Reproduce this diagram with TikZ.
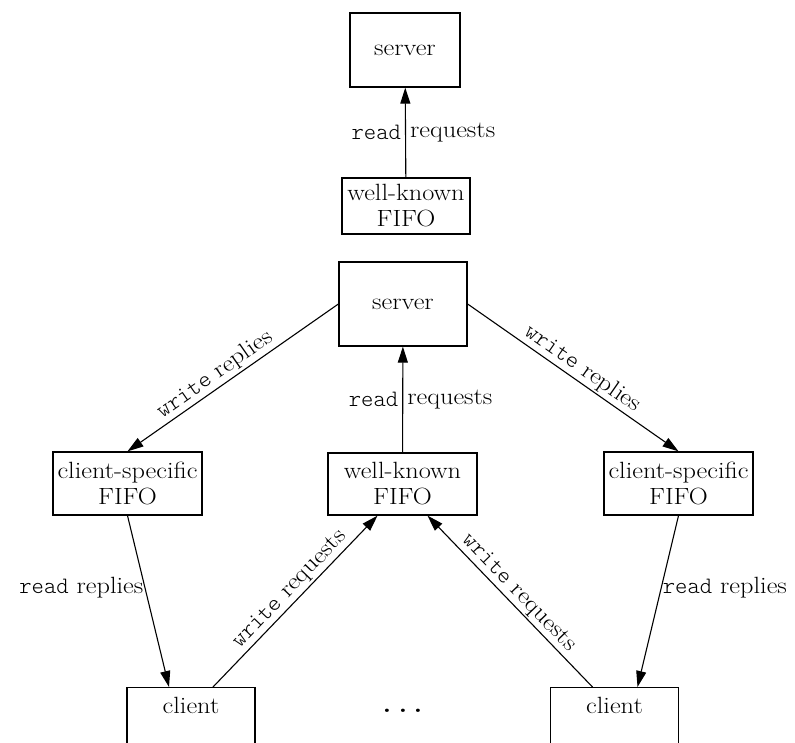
\documentclass[tikz,border=0pt]{standalone}
\usepackage{fontspec}
\setmainfont{Latin Modern Roman}[FakeStretch=1.12]
\setmonofont{Latin Modern Mono Light}
\usetikzlibrary{arrows.meta}

\begin{document}
\begin{tikzpicture}[x=1pt,y=-1pt,
  txt/.style={font=\fontsize{23.5}{26}\selectfont},
  box/.style={txt, draw, line width=1.3pt, inner sep=0pt, align=center},
  flow/.style={line width=1.1pt, -{Triangle[length=16pt,width=10pt]}},
  lbl/.style={txt, inner sep=2pt},
  side/.style={lbl, inner xsep=4pt},
]
\clip (0,0) rectangle (795,742);
\fill[white] (0,0) rectangle (795,742);

% single server reading one well-known FIFO
\node[box, minimum width=110pt, minimum height=74pt] (srvA) at (405,50) {server};
\node[box, minimum width=128pt, minimum height=56pt] (wkA) at (406,206) {well-known\\FIFO};
\draw[flow] (wkA) -- (srvA)
  node[midway, side, left] {\texttt{read}}
  node[midway, side, right] {requests};

% server with client-specific FIFOs
\node[box, minimum width=128pt, minimum height=84pt] (srvB) at (403,304) {server};
\node[box, minimum width=149pt, minimum height=63pt] (cs1) at (127.5,483.5) {client-specific\\FIFO};
\node[box, minimum width=149pt, minimum height=62pt] (wkB) at (402.5,484) {well-known\\FIFO};
\node[box, minimum width=149pt, minimum height=63pt] (cs2) at (678.5,483.5) {client-specific\\FIFO};

\node[box, minimum width=128pt, minimum height=110pt, anchor=north] (c1) at (191,687) {};
\node[lbl] (c1t) at (191,705) {client};
\node[box, minimum width=128pt, minimum height=110pt, anchor=north] (c2) at (614.5,687) {};
\node[lbl] (c2t) at (614.5,705) {client};
\node[font=\fontsize{42}{42}\selectfont, inner sep=0pt] (more) at (403,711) {.\hspace{3.5pt}.\hspace{3.5pt}.};

\draw[flow] (srvB.west) -- (cs1.north)
  node[pos=.55, sloped, above, lbl, inner sep=2pt] {\texttt{write} replies};
\draw[flow] (srvB.east) -- (cs2.north)
  node[pos=.51, sloped, above, lbl, inner sep=2pt] {\texttt{write} replies};
\draw[flow] (wkB) -- (srvB)
  node[midway, side, left] {\texttt{read}}
  node[midway, side, right] {requests};

\draw[flow] (cs1.south) -- ([xshift=-22pt]c1.north)
  node[pos=.42, left, lbl, inner sep=1pt] {\texttt{read} replies};
\draw[flow] (cs2.south) -- ([xshift=23pt]c2.north)
  node[pos=.42, right, lbl, inner sep=1pt] {\texttt{read} replies};
\draw[flow] ([xshift=22pt]c1.north) -- ([xshift=-25pt]wkB.south)
  node[pos=.52, sloped, above, lbl, inner sep=2pt] {\texttt{write} requests};
\draw[flow] ([xshift=-22pt]c2.north) -- ([xshift=25pt]wkB.south)
  node[pos=.5, sloped, above, lbl, inner sep=2pt] {\texttt{write} requests};
\end{tikzpicture}
\end{document}
